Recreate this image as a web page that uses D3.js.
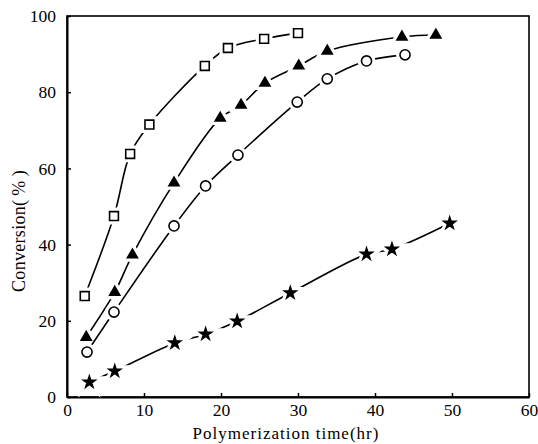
<!DOCTYPE html>
<html><head><meta charset="utf-8">
<script src="https://cdn.jsdelivr.net/npm/d3@7"></script>
<style>body{margin:0;background:#fff;} svg{display:block;}</style>
</head><body>
<svg id="c" width="538" height="444"></svg>
<script>
const squareX = [2.3, 6.1, 8.2, 10.7, 17.9, 20.9, 25.6, 30.0];
const squareY = [26.5, 47.5, 63.8, 71.5, 86.9, 91.6, 94.0, 95.5];
const triX = [2.5, 6.2, 8.5, 13.9, 19.9, 22.6, 25.7, 30.1, 33.8, 43.5, 47.9];
const triY = [15.7, 27.5, 37.3, 56.2, 73.2, 76.6, 82.4, 86.9, 90.8, 94.5, 95.0];
const circX = [2.6, 6.1, 13.9, 18.0, 22.2, 29.9, 33.8, 38.9, 43.9];
const circY = [11.8, 22.3, 44.9, 55.4, 63.5, 77.4, 83.5, 88.2, 89.8];
const starX = [2.9, 6.2, 14.0, 18.0, 22.1, 29.0, 38.9, 42.2, 49.7];
const starY = [3.9, 6.8, 14.2, 16.5, 19.9, 27.3, 37.5, 38.8, 45.6];
const xTicks = [0, 10, 20, 30, 40, 50, 60];
const yTicks = [0, 20, 40, 60, 80, 100];
const xTitle = "Polymerization time(hr)";
const yTitleParts = ["Conversion(", "%", ")"];

const FONT = '"Liberation Serif", "Times New Roman", serif';
const svg = d3.select("#c");
const x = d3.scaleLinear().domain([0, 60]).range([67, 529]);
const y = d3.scaleLinear().domain([0, 100]).range([397, 16]);

svg.append("rect").attr("x", 67).attr("y", 16).attr("width", 462).attr("height", 381)
  .attr("fill", "none").attr("stroke", "#000").attr("stroke-width", 1.6);

const xAxis = svg.append("g").attr("transform", "translate(0,397)")
  .call(d3.axisBottom(x).tickValues(xTicks).tickSizeInner(-4).tickSizeOuter(0).tickPadding(7));
const yAxis = svg.append("g").attr("transform", "translate(67,0)")
  .call(d3.axisLeft(y).tickValues(yTicks).tickSizeInner(-4).tickSizeOuter(0).tickPadding(11));
[xAxis, yAxis].forEach(g => {
  g.select(".domain").attr("stroke", "#000").attr("stroke-width", 2);
  g.selectAll(".tick line").attr("stroke", "#000").attr("stroke-width", 1.5);
  g.selectAll("text").style("font-family", FONT).style("font-size", "17.5px").attr("fill", "#000");
});
yAxis.selectAll(".tick text").attr("dy", "0.33em");

svg.append("text").attr("x", 286).attr("y", 439).attr("text-anchor", "middle")
  .style("font-family", FONT).style("font-size", "17px").attr("letter-spacing", 1).text(xTitle);
const yt = svg.append("text").attr("transform", "translate(25,231) rotate(-90)").attr("text-anchor", "middle")
  .style("font-family", FONT).style("font-size", "18px").attr("letter-spacing", 0.3);
yt.append("tspan").text(yTitleParts[0]);
yt.append("tspan").attr("dx", 4).text(yTitleParts[1]);
yt.append("tspan").attr("dx", 4).text(yTitleParts[2]);

const series = [
  {xs: squareX, ys: squareY, sym: d3.symbolSquare, size: 78, fill: "#fff"},
  {xs: triX, ys: triY, sym: d3.symbolTriangle, size: 44, fill: "#000"},
  {xs: circX, ys: circY, sym: d3.symbolCircle, size: 80, fill: "#fff"},
  {xs: starX, ys: starY, sym: d3.symbolStar, size: 42, fill: "#000"}
];

const line = d3.line().x(d => x(d[0])).y(d => y(d[1])).curve(d3.curveCatmullRom.alpha(0.5));
series.forEach(s => {
  const pts = s.xs.map((v, i) => [v, s.ys[i]]);
  svg.append("path").datum(pts).attr("d", line).attr("fill", "none")
    .attr("stroke", "#000").attr("stroke-width", 1.6);
  const sym = d3.symbol().type(s.sym).size(s.size);
  svg.append("g").selectAll("path").data(pts).join("path")
    .attr("transform", d => `translate(${x(d[0])},${y(d[1])})`)
    .attr("d", sym).attr("fill", "#fff").attr("stroke", "#fff").attr("stroke-width", 8);
  svg.append("g").selectAll("path").data(pts).join("path")
    .attr("transform", d => `translate(${x(d[0])},${y(d[1])})`)
    .attr("d", sym).attr("fill", s.fill).attr("stroke", "#000").attr("stroke-width", 1.6);
});
</script>
</body></html>
